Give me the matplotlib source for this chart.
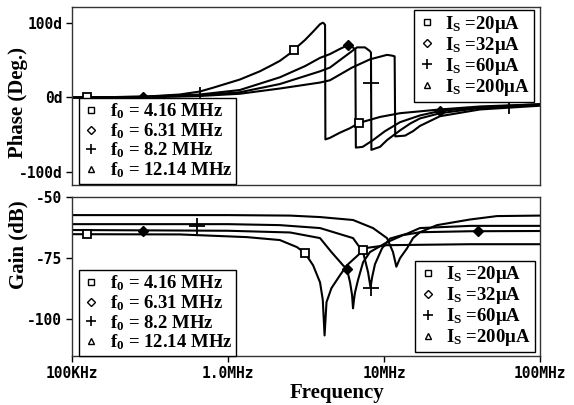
import matplotlib
matplotlib.use("Agg")
import matplotlib.pyplot as plt
from matplotlib.lines import Line2D
from matplotlib.ticker import FixedLocator, FixedFormatter, NullLocator

plt.rcParams['mathtext.fontset'] = 'custom'
plt.rcParams['mathtext.rm'] = 'Liberation Serif:bold'
plt.rcParams['mathtext.it'] = 'Liberation Serif:bold'
plt.rcParams['mathtext.bf'] = 'Liberation Serif:bold'

# ---------------- data (frequency in MHz) ----------------
# Phase (deg)
ph_f1 = [0.1, 0.125, 0.285, 0.49, 0.66, 0.80, 1.19, 1.60, 1.94, 2.15, 2.50, 2.65, 3.12, 3.51, 3.89, 4.05, 4.12, 4.19, 4.21, 4.5, 5.22, 6.06, 6.92, 9.43, 12.67, 22.86, 41.25, 100]
ph_v1 = [0, 0, 1, 4, 8, 13, 24, 35, 44, 49, 59, 64, 77, 88, 98, 100, 99, 97, -56, -54, -47, -41, -34, -26, -21, -16, -12, -9]

ph_f2 = [0.1, 0.285, 0.66, 1.19, 2.15, 3.12, 3.89, 4.5, 5.22, 5.88, 6.24, 6.55, 6.60, 7.3, 8.5, 10.15, 12.67, 17.0, 22.86, 41.25, 100]
ph_v2 = [0, 1, 4, 10, 27, 42, 53, 58, 65, 70, 68, 64, -67, -66, -57, -45, -33, -24, -18, -13, -9]

ph_f3 = [0.1, 0.285, 0.66, 1.19, 2.15, 3.89, 4.5, 5.79, 6.71, 7.55, 8.13, 8.25, 8.30, 9.43, 10.45, 12.67, 14.68, 17.0, 22.86, 41.25, 100]
ph_v3 = [0, 1, 3, 7, 18, 35, 40, 57, 67, 67, 62, 60, -70, -66, -57, -44, -35, -28, -21, -14, -10]

ph_f4 = [0.1, 0.285, 0.66, 1.19, 2.15, 3.89, 4.5, 6.24, 8.13, 10.45, 11.25, 11.70, 11.80, 13.64, 15.35, 17.0, 22.86, 41.25, 100]
ph_v4 = [0, 0, 2, 5, 12, 20, 23, 40, 51, 57, 56, 55, -52, -51, -45, -38, -25, -16, -11]

# Gain (dB)
g_f1 = [0.1, 0.49, 1.32, 2.15, 2.77, 3.12, 3.51, 3.89, 4.05, 4.16, 4.28, 4.6, 5.22, 5.79, 6.81, 7.55, 10.45, 35.6, 100]
g_v1 = [-65.2, -65.3, -66.4, -67.6, -70.5, -73.0, -77.9, -84.9, -92.0, -106.6, -93.0, -87.3, -82.0, -77.9, -73.8, -70.9, -69.7, -69.3, -69.3]

g_f2 = [0.1, 1.0, 2.5, 3.89, 4.6, 5.46, 5.79, 6.06, 6.24, 6.33, 6.42, 6.52, 6.81, 7.34, 8.13, 10.45, 13.24, 17.0, 35.6, 100]
g_v2 = [-63.5, -63.8, -64.5, -66.8, -72.5, -77.9, -79.5, -84.9, -90.0, -95.5, -92.0, -89.0, -84.0, -76.7, -72.5, -68.5, -65.6, -64.4, -64.0, -63.9]

g_f3 = [0.1, 1.0, 2.15, 3.89, 6.33, 7.34, 7.9, 8.2, 8.38, 8.75, 9.71, 10.93, 14.04, 17.0, 35.6, 100]
g_v3 = [-61.1, -61.1, -61.5, -62.7, -66.8, -72.5, -80.7, -87.0, -83.0, -77.5, -71.0, -67.0, -65.0, -62.7, -61.8, -61.8]

g_f4 = [0.1, 1.0, 2.5, 3.89, 6.33, 8.5, 10.45, 11.42, 12.0, 12.67, 14.04, 15.35, 17.0, 21.87, 35.6, 53.0, 100]
g_v4 = [-57.4, -57.4, -57.6, -58.2, -59.4, -62.7, -66.8, -72.5, -78.5, -75.0, -71.0, -66.8, -64.4, -61.5, -59.2, -57.8, -57.6]

# marker positions
ph_mk1_f, ph_mk1_v = [0.125, 2.65, 6.92], [0, 64, -34]
ph_mk2_f, ph_mk2_v = [0.285, 5.88, 22.86], [0, 70, -18]
ph_mk3_f, ph_mk3_v = [0.66, 8.25, 63.3], [4, 20, -11]
g_mk1_f, g_mk1_v = [0.125, 3.12, 7.34], [-65.2, -73.0, -71.7]
g_mk2_f, g_mk2_v = [0.285, 5.79, 40.0], [-64.0, -79.5, -64.0]
g_mk3_f, g_mk3_v = [0.63, 8.2], [-62.0, -87.0]

f0_labels = [r"f$_0$ = 4.16 MHz", r"f$_0$ = 6.31 MHz", r"f$_0$ = 8.2 MHz", r"f$_0$ = 12.14 MHz"]
is_labels = [r"I$_S$ =20μA", r"I$_S$ =32μA", r"I$_S$ =60μA", r"I$_S$ =200μA"]

x_ticks = [0.1, 1.0, 10.0, 100.0]
x_ticklabels = ["100KHz", "1.0MHz", "10MHz", "100MHz"]
ph_ticks = [-100, 0, 100]
ph_ticklabels = ["-100d", "0d", "100d"]
g_ticks = [-100, -75, -50]
g_ticklabels = ["-100", "-75", "-50"]

# ---------------- figure ----------------
W, H = 574, 405
fig = plt.figure(figsize=(W / 100, H / 100), dpi=100)

def axrect(l, t, r, b):
    return [l / W, 1 - b / H, (r - l) / W, (b - t) / H]

ax1 = fig.add_axes(axrect(72, 7, 540, 185))
ax2 = fig.add_axes(axrect(72, 197, 540, 356))

lw = 1.5
for f, v in [(ph_f1, ph_v1), (ph_f2, ph_v2), (ph_f3, ph_v3), (ph_f4, ph_v4)]:
    ax1.plot(f, v, color='black', lw=lw, solid_joinstyle='round')
for f, v in [(g_f1, g_v1), (g_f2, g_v2), (g_f3, g_v3), (g_f4, g_v4)]:
    ax2.plot(f, v, color='black', lw=lw, solid_joinstyle='round')

def markers(ax, sf, sv, df, dv, pf, pv):
    ax.plot(sf, sv, ls='none', marker='s', ms=6, mfc='white', mec='black', mew=1.3, zorder=5)
    ax.plot(df, dv, ls='none', marker='D', ms=5, mfc='black', mec='black', zorder=5)
    ax.plot(pf, pv, ls='none', marker='+', ms=11, mec='black', mew=1.3, zorder=5)

markers(ax1, ph_mk1_f, ph_mk1_v, ph_mk2_f, ph_mk2_v, ph_mk3_f, ph_mk3_v)
markers(ax2, g_mk1_f, g_mk1_v, g_mk2_f, g_mk2_v, g_mk3_f, g_mk3_v)

for ax in (ax1, ax2):
    ax.set_xscale('log')
    ax.set_xlim(0.1, 100)
    ax.xaxis.set_minor_locator(NullLocator())
    for s in ax.spines.values():
        s.set_linewidth(1.0)
        s.set_color('#333333')
    ax.tick_params(axis='y', direction='out', length=4, width=1, pad=3)
    ax.tick_params(axis='x', direction='out', length=4, width=1, pad=3.5)

ax1.set_ylim(-117, 121)
ax1.yaxis.set_major_locator(FixedLocator(ph_ticks))
ax1.yaxis.set_major_formatter(FixedFormatter(ph_ticklabels))
ax1.set_xticks([])
ax1.xaxis.set_minor_locator(NullLocator())

ax2.set_ylim(-115, -50)
ax2.yaxis.set_major_locator(FixedLocator(g_ticks))
ax2.yaxis.set_major_formatter(FixedFormatter(g_ticklabels))
ax2.xaxis.set_major_locator(FixedLocator(x_ticks))
ax2.xaxis.set_major_formatter(FixedFormatter(x_ticklabels))

for ax in (ax1, ax2):
    for lab in ax.get_xticklabels() + ax.get_yticklabels():
        lab.set_fontfamily('DejaVu Sans Mono')
        lab.set_fontweight('bold')
        lab.set_fontsize(10.5)

# legends
def handles():
    return [Line2D([], [], ls='none', marker='s', ms=5, mfc='white', mec='black', mew=1.0),
            Line2D([], [], ls='none', marker='D', ms=4, mfc='white', mec='black', mew=1.0),
            Line2D([], [], ls='none', marker='+', ms=7, mec='black', mew=1.2),
            Line2D([], [], ls='none', marker='^', ms=5, mfc='white', mec='black', mew=1.0)]

legprops = dict(family='Liberation Serif', weight='bold', size=13.5)

def add_leg(ax, labels, loc, anchor):
    lg = ax.legend(handles(), labels, loc=loc, bbox_to_anchor=anchor, prop=legprops,
                   frameon=True, fancybox=False, borderaxespad=0, handlelength=0.9,
                   handletextpad=0.55, labelspacing=0.0, borderpad=0.2, framealpha=1)
    lg.get_frame().set_edgecolor('black')
    lg.get_frame().set_linewidth(1.0)
    return lg

l1 = add_leg(ax1, f0_labels, 'lower left', (0.015, 0.006))
ax1.add_artist(l1)
add_leg(ax1, is_labels, 'upper right', (0.987, 0.983))
l3 = add_leg(ax2, f0_labels, 'lower left', (0.015, 0.0))
ax2.add_artist(l3)
add_leg(ax2, is_labels, 'lower right', (0.989, 0.025))

labfont = dict(family='Liberation Serif', weight='bold', size=15)
fig.text(18 / W, 1 - 103 / H, "Phase (Deg.)", rotation=90, ha='center', va='center', **labfont)
fig.text(18 / W, 1 - 245 / H, "Gain (dB)", rotation=90, ha='center', va='center', **labfont)
fig.text(337 / W, 1 - 393 / H, "Frequency", ha='center', va='center', **labfont)

fig.savefig("out.png", dpi=100)
